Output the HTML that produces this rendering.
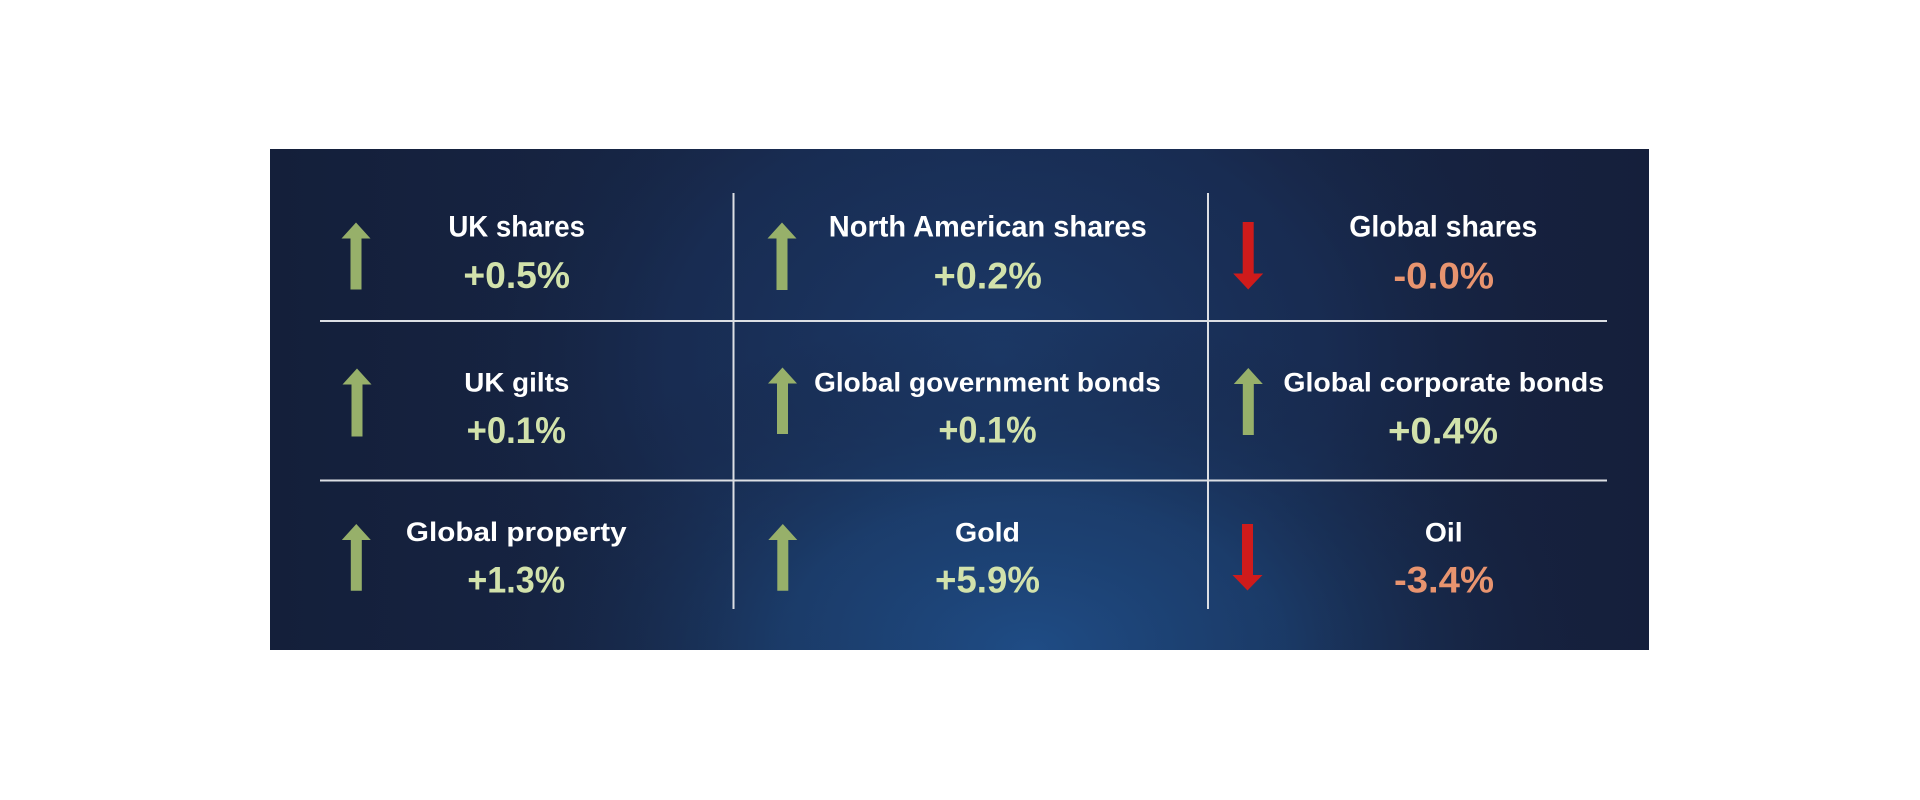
<!DOCTYPE html>
<html>
<head>
<meta charset="utf-8">
<style>
  html,body{margin:0;padding:0;background:#ffffff;}
  body{width:1920px;height:800px;overflow:hidden;}
  svg{display:block;}
  .lab{font-family:"Liberation Sans",sans-serif;font-weight:bold;fill:#ffffff;}
  .val{font-family:"Liberation Sans",sans-serif;font-weight:bold;}
  .pos{fill:#d2e2ab;}
  .neg{fill:#e8946f;}
</style>
</head>
<body>
<svg width="1920" height="800" viewBox="0 0 1920 800" xmlns="http://www.w3.org/2000/svg">
  <defs>
    <radialGradient id="g1" cx="1030" cy="650" r="560" gradientUnits="userSpaceOnUse" gradientTransform="translate(1030 650) scale(1 0.6) translate(-1030 -650)">
      <stop offset="0" stop-color="#1f4c85" stop-opacity="1"/>
      <stop offset="0.45" stop-color="#1c4172" stop-opacity="0.75"/>
      <stop offset="1" stop-color="#16233f" stop-opacity="0"/>
    </radialGradient>
    <radialGradient id="g2" cx="1000" cy="360" r="560" gradientUnits="userSpaceOnUse" gradientTransform="translate(1000 360) scale(1 0.75) translate(-1000 -360)">
      <stop offset="0" stop-color="#1c3a69" stop-opacity="1"/>
      <stop offset="0.6" stop-color="#19305a" stop-opacity="0.6"/>
      <stop offset="1" stop-color="#16233f" stop-opacity="0"/>
    </radialGradient>
    <linearGradient id="base" x1="0" y1="0" x2="1" y2="0">
      <stop offset="0" stop-color="#141f3a"/>
      <stop offset="0.5" stop-color="#18294b"/>
      <stop offset="1" stop-color="#151f3b"/>
    </linearGradient>
  </defs>

  <rect x="0" y="0" width="1920" height="800" fill="#ffffff"/>
  <rect x="270" y="149" width="1379" height="501" fill="url(#base)"/>
  <rect x="270" y="149" width="1379" height="501" fill="url(#g2)"/>
  <rect x="270" y="149" width="1379" height="501" fill="url(#g1)"/>

  <g stroke="#dcdfe4" stroke-width="2">
    <line x1="320" y1="321" x2="1607" y2="321"/>
    <line x1="320" y1="480.5" x2="1607" y2="480.5"/>
    <line x1="733.5" y1="193" x2="733.5" y2="609"/>
    <line x1="1208" y1="193" x2="1208" y2="609"/>
  </g>

  <g fill="#97b06a">
    <polygon points="356,222.5 370.5,238.5 361.5,238.5 361.5,289.5 350.5,289.5 350.5,238.5 341.5,238.5"/>
    <polygon points="782,222.5 796.5,238.5 787.5,238.5 787.5,290 776.5,290 776.5,238.5 767.5,238.5"/>
    <polygon points="357,368.5 371.5,384.5 362.5,384.5 362.5,436.5 351.5,436.5 351.5,384.5 342.5,384.5"/>
    <polygon points="782.5,367.5 797,383.5 788,383.5 788,434 777,434 777,383.5 768,383.5"/>
    <polygon points="1248.3,368 1262.8,384 1253.8,384 1253.8,435 1242.8,435 1242.8,384 1233.8,384"/>
    <polygon points="356.3,524 370.8,540 361.8,540 361.8,590.7 350.8,590.7 350.8,540 341.8,540"/>
    <polygon points="782.8,524 797.3,540 788.3,540 788.3,590.7 777.3,590.7 777.3,540 768.3,540"/>
  </g>
  <g fill="#cf1b1b">
    <polygon points="1242.7,222 1253.7,222 1253.7,273.5 1263.2,273.5 1248.2,289.5 1233.2,273.5 1242.7,273.5"/>
    <polygon points="1242,524 1253,524 1253,575 1262.5,575 1247.5,590.5 1232.5,575 1242,575"/>
  </g>

  <g class="lab" text-anchor="middle">
    <text x="516.7" y="236.5" font-size="29.5" textLength="136.7" lengthAdjust="spacingAndGlyphs">UK shares</text>
    <text x="987.8" y="236.5" font-size="29.5" textLength="318" lengthAdjust="spacingAndGlyphs">North American shares</text>
    <text x="1443.3" y="236.5" font-size="29.5" textLength="188" lengthAdjust="spacingAndGlyphs">Global shares</text>

    <text x="516.8" y="391.3" font-size="27" textLength="105" lengthAdjust="spacingAndGlyphs">UK gilts</text>
    <text x="987.5" y="391.3" font-size="27" textLength="346.7" lengthAdjust="spacingAndGlyphs">Global government bonds</text>
    <text x="1443.7" y="391.5" font-size="27" textLength="320.7" lengthAdjust="spacingAndGlyphs">Global corporate bonds</text>

    <text x="516.3" y="541.2" font-size="27" textLength="220.7" lengthAdjust="spacingAndGlyphs">Global property</text>
    <text x="987.5" y="541.5" font-size="27" textLength="65" lengthAdjust="spacingAndGlyphs">Gold</text>
    <text x="1443.8" y="541.5" font-size="27" textLength="37.7" lengthAdjust="spacingAndGlyphs">Oil</text>
  </g>

  <g class="val" text-anchor="middle" font-size="37">
    <text class="pos" x="516.7" y="288" textLength="106.7" lengthAdjust="spacingAndGlyphs">+0.5%</text>
    <text class="pos" x="987.8" y="288.3" textLength="108.3" lengthAdjust="spacingAndGlyphs">+0.2%</text>
    <text class="neg" x="1443.7" y="288.5" textLength="100.7" lengthAdjust="spacingAndGlyphs">-0.0%</text>

    <text class="pos" x="516.3" y="442.8" textLength="99.3" lengthAdjust="spacingAndGlyphs">+0.1%</text>
    <text class="pos" x="987.5" y="442.5" textLength="98.3" lengthAdjust="spacingAndGlyphs">+0.1%</text>
    <text class="pos" x="1443" y="443.3" textLength="110" lengthAdjust="spacingAndGlyphs">+0.4%</text>

    <text class="pos" x="516.2" y="592.7" textLength="97.7" lengthAdjust="spacingAndGlyphs">+1.3%</text>
    <text class="pos" x="987.5" y="592.7" textLength="105" lengthAdjust="spacingAndGlyphs">+5.9%</text>
    <text class="neg" x="1444" y="592.7" textLength="100" lengthAdjust="spacingAndGlyphs">-3.4%</text>
  </g>
</svg>
</body>
</html>
